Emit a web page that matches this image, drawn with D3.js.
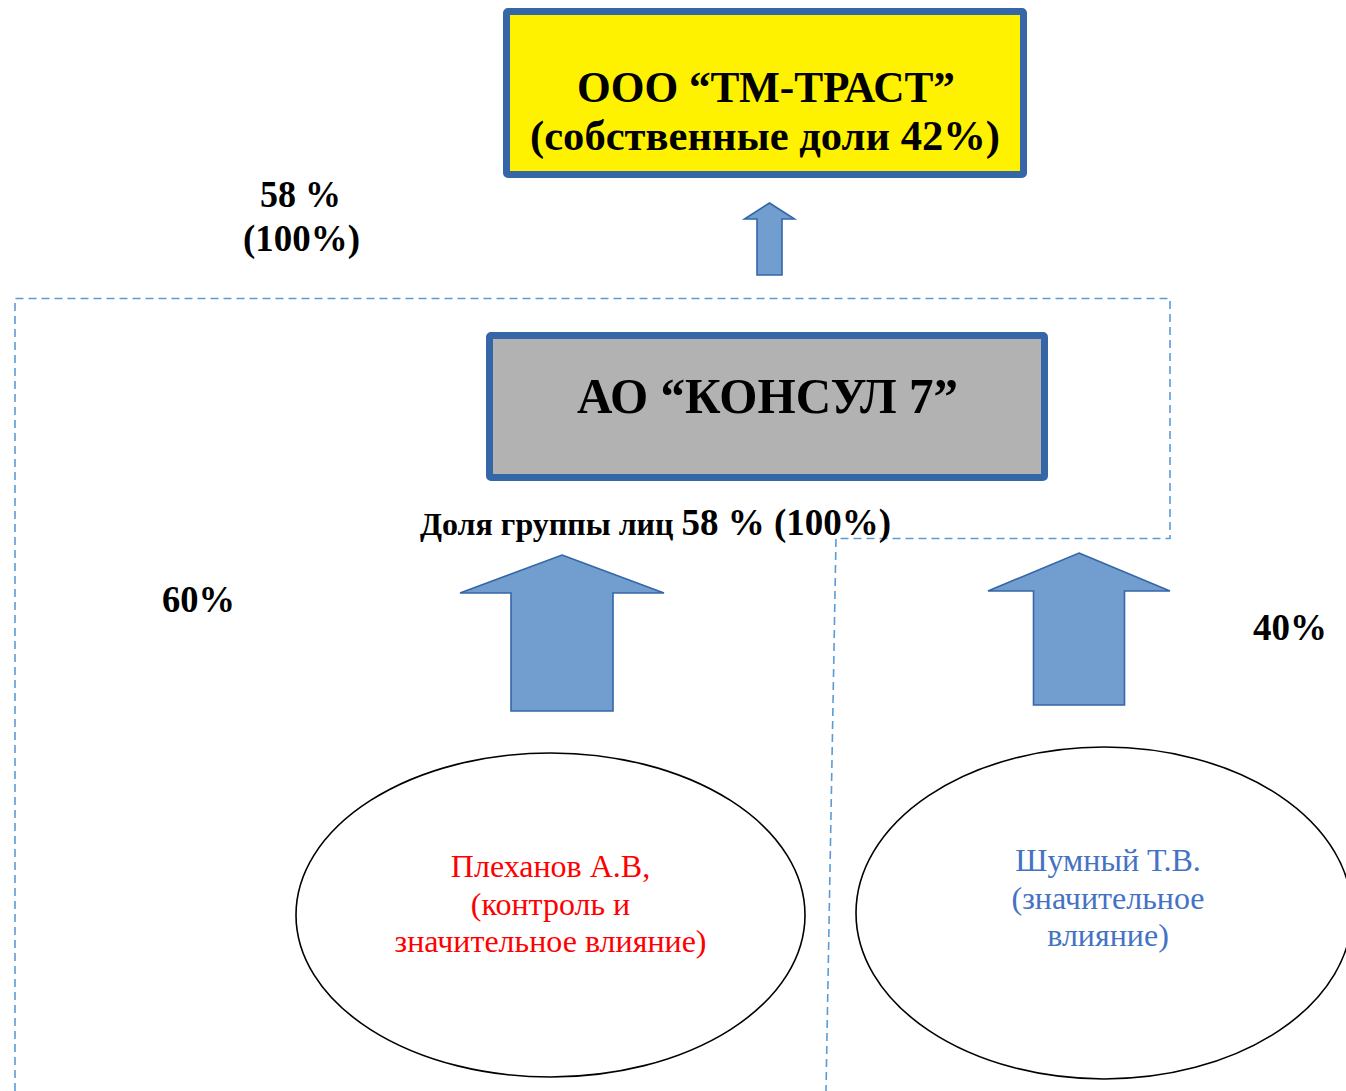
<!DOCTYPE html>
<html>
<head>
<meta charset="utf-8">
<script src="https://cdn.jsdelivr.net/npm/d3@7"></script>
<style>
  html, body { margin: 0; padding: 0; background: #fff; }
  svg { display: block; }
</style>
</head>
<body>
<div id="chart"></div>
<script>
// --- данные схемы ---
var companyTitles = ["ООО “ТМ-ТРАСТ”", "(собственные доли 42%)"];
var holdingTitles = ["АО “КОНСУЛ 7”"];
var groupShare = ["Доля группы лиц ", "58 % (100%)"];
var topShare = ["58 %", "(100%)"];
var ownerShares = ["60%", "40%"];
var ownerNames = [
  ["Плеханов А.В,", "(контроль и", "значительное влияние)"],
  ["Шумный Т.В.", "(значительное", "влияние)"]
];

var W = 1346, H = 1091;
var serif = "'Liberation Serif', 'Times New Roman', serif";
var edge = "#3566a8", arrowFill = "#719ecf", dash = "#5b9bd5";

var svg = d3.select("#chart").append("svg")
  .attr("width", W).attr("height", H);

// пунктирная рамка группы лиц
var frames = [
  {"points": "15,1091 15,298.5 1170,298.5 1170,538.5 836,538.5 826,1091"}
];
svg.selectAll("polyline.frame")
  .data(frames)
  .enter()
  .append("polyline")
  .attr("class", "frame")
  .attr("points", function(d){ return d.points; })
  .style("fill", "none")
  .style("stroke", dash)
  .style("stroke-width", 1.6)
  .style("stroke-dasharray", "8,5");

// прямоугольники компаний
var boxes = [
  {"x": 506.5, "y": 11.5, "w": 517, "h": 163, "fill": "#fff200"},
  {"x": 489.5, "y": 335.5, "w": 555, "h": 142, "fill": "#b2b2b2"}
];
svg.selectAll("rect.box")
  .data(boxes)
  .enter()
  .append("rect")
  .attr("class", "box")
  .attr("x", function(d){ return d.x; })
  .attr("y", function(d){ return d.y; })
  .attr("width", function(d){ return d.w; })
  .attr("height", function(d){ return d.h; })
  .attr("rx", 1.5)
  .style("fill", function(d){ return d.fill; })
  .style("stroke", edge)
  .style("stroke-width", 7);

// стрелки вверх
var arrows = [
  {"cx": 769.5, "tip": 203, "shoulder": 219, "half": 25, "shaft": 12.5, "bottom": 275},
  {"cx": 562, "tip": 555, "shoulder": 593, "half": 102, "shaft": 51, "bottom": 711},
  {"cx": 1079, "tip": 553, "shoulder": 591, "half": 91, "shaft": 45.5, "bottom": 705}
];
svg.selectAll("path.arrow")
  .data(arrows)
  .enter()
  .append("path")
  .attr("class", "arrow")
  .attr("d", function(d){
    var p = d3.path();
    p.moveTo(d.cx, d.tip);
    p.lineTo(d.cx + d.half, d.shoulder);
    p.lineTo(d.cx + d.shaft, d.shoulder);
    p.lineTo(d.cx + d.shaft, d.bottom);
    p.lineTo(d.cx - d.shaft, d.bottom);
    p.lineTo(d.cx - d.shaft, d.shoulder);
    p.lineTo(d.cx - d.half, d.shoulder);
    p.closePath();
    return p.toString();
  })
  .style("fill", arrowFill)
  .style("stroke", edge)
  .style("stroke-width", 1.6)
  .style("stroke-linejoin", "miter");

// эллипсы владельцев
var owners = [
  {"cx": 550.5, "cy": 915, "rx": 254.5, "ry": 162, "tx": 550.5, "color": "#ff0000", "y0": 877},
  {"cx": 1104, "cy": 913, "rx": 248, "ry": 166, "tx": 1108, "color": "#4472c4", "y0": 871}
];
svg.selectAll("ellipse.owner")
  .data(owners)
  .enter()
  .append("ellipse")
  .attr("class", "owner")
  .attr("cx", function(d){ return d.cx; })
  .attr("cy", function(d){ return d.cy; })
  .attr("rx", function(d){ return d.rx; })
  .attr("ry", function(d){ return d.ry; })
  .style("fill", "white")
  .style("stroke", "black")
  .style("stroke-width", 1.6);

var nameGroups = svg.selectAll("g.names")
  .data(owners)
  .enter()
  .append("g")
  .attr("class", "names");
nameGroups.each(function(d, i){
  d3.select(this).selectAll("text")
    .data(ownerNames[i])
    .enter()
    .append("text")
    .attr("x", d.tx)
    .attr("y", function(t, j){ return d.y0 + j * 37.5; })
    .attr("text-anchor", "middle")
    .style("font-family", serif)
    .style("font-size", "32px")
    .style("fill", d.color)
    .text(function(t){ return t; });
});

// подписи
var labels = [
  {"x": 766, "y": 102, "size": 43.5, "len": 378, "text": companyTitles[0]},
  {"x": 765, "y": 150, "size": 43, "len": 470, "text": companyTitles[1]},
  {"x": 767.5, "y": 413, "size": 50, "len": 381, "text": holdingTitles[0]},
  {"x": 300.5, "y": 207, "size": 37, "len": 81, "text": topShare[0]},
  {"x": 301.5, "y": 251, "size": 37, "len": 117, "text": topShare[1]},
  {"x": 198.5, "y": 612, "size": 37.5, "len": 73, "text": ownerShares[0]},
  {"x": 1290, "y": 640, "size": 37.5, "len": 74, "text": ownerShares[1]}
];
svg.selectAll("text.label")
  .data(labels)
  .enter()
  .append("text")
  .attr("class", "label")
  .attr("x", function(d){ return d.x; })
  .attr("y", function(d){ return d.y; })
  .attr("text-anchor", "middle")
  .attr("textLength", function(d){ return d.len; })
  .attr("lengthAdjust", "spacingAndGlyphs")
  .style("font-family", serif)
  .style("font-weight", "bold")
  .style("font-size", function(d){ return d.size + "px"; })
  .style("fill", "black")
  .text(function(d){ return d.text; });

// доля группы лиц
var share = svg.append("text")
  .attr("x", 420)
  .attr("y", 535)
  .style("font-family", serif)
  .style("font-weight", "bold")
  .style("fill", "black");
share.selectAll("tspan")
  .data(groupShare)
  .enter()
  .append("tspan")
  .style("font-size", function(d, i){ return i === 0 ? "32px" : "37px"; })
  .text(function(d){ return d; });
</script>
</body>
</html>
